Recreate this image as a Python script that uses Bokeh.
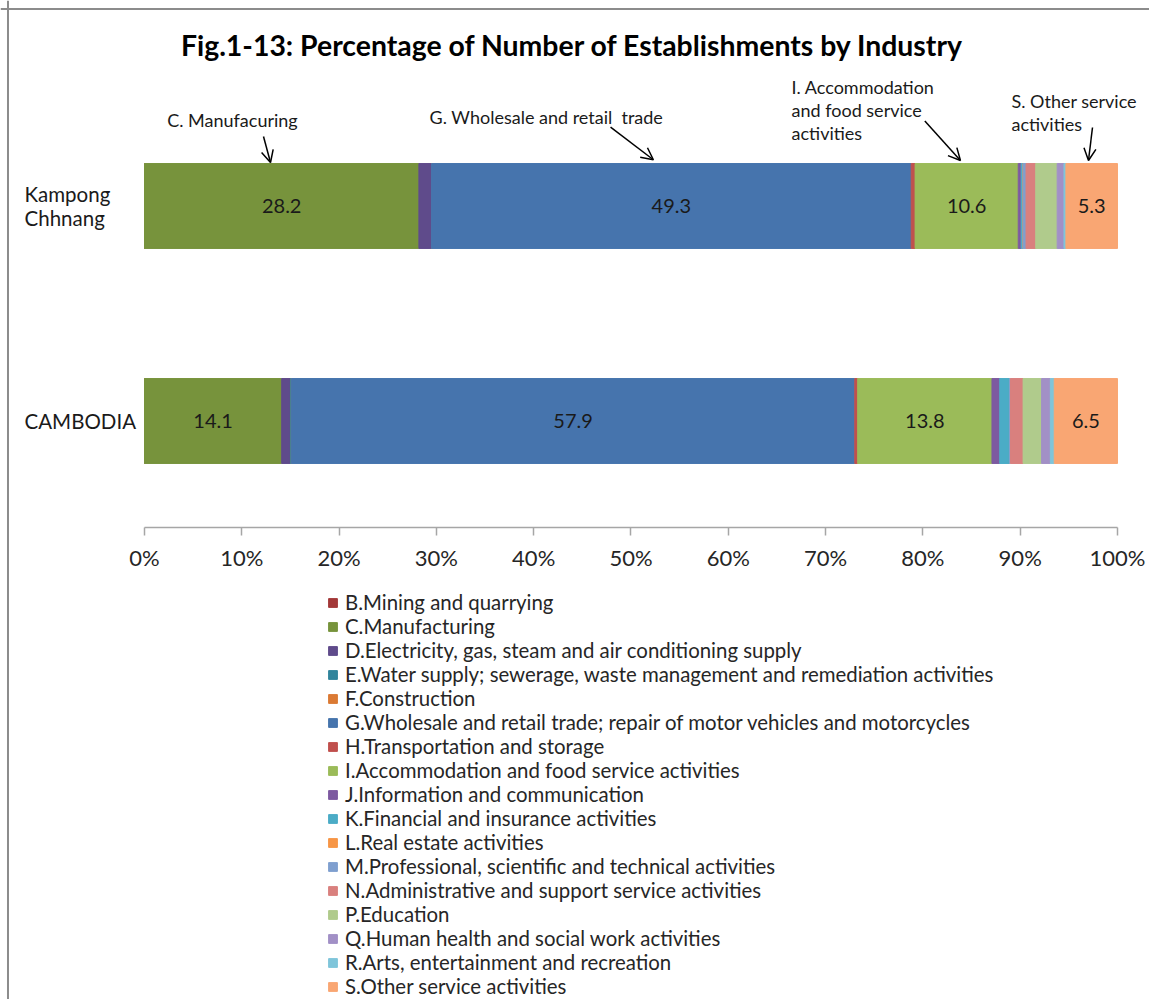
from bokeh.plotting import figure
from bokeh.models import (Range1d, FixedTicker, Legend, LegendItem, Label, Arrow,
                          OpenHead, ColumnDataSource, Span)
from bokeh.core.properties import value
from bokeh.embed import file_html
from bokeh.resources import INLINE

# ---------------- data ----------------
title_text = "Fig.1-13: Percentage of Number of Establishments by Industry"
regions = ["Kampong Chhnang", "CAMBODIA"]
region_labels = ["Kampong\nChhnang", "CAMBODIA"]

industry_keys = ["B", "C", "D", "E", "F", "G", "H", "I", "J", "K", "L", "M", "N", "P", "Q", "R", "S"]
industries = [
    "B.Mining and quarrying",
    "C.Manufacturing",
    "D.Electricity, gas, steam and air conditioning supply",
    "E.Water supply; sewerage, waste management and remediation activities",
    "F.Construction",
    "G.Wholesale and retail trade; repair of motor vehicles and motorcycles",
    "H.Transportation and storage",
    "I.Accommodation and food service activities",
    "J.Information and communication",
    "K.Financial and insurance activities",
    "L.Real estate activities",
    "M.Professional, scientific and technical activities",
    "N.Administrative and support service activities",
    "P.Education",
    "Q.Human health and social work activities",
    "R.Arts, entertainment and recreation",
    "S.Other service activities",
]
colors = ["#A33838", "#77933C", "#5F4B8B", "#31859C", "#DB7A34", "#4674AD", "#C0504D",
          "#9BBB59", "#7D5AA0", "#4BACC6", "#F79646", "#7F9FCF", "#D9807E", "#B0CB8C",
          "#A290C6", "#7FC5DA", "#F9A673"]

kampong_chhnang = [0.0, 28.2, 1.3, 0.0, 0.0, 49.3, 0.4, 10.6, 0.3, 0.2, 0.0, 0.3, 1.0, 2.2, 0.7, 0.2, 5.3]
cambodia = [0.0, 14.1, 0.9, 0.1, 0.0, 57.9, 0.3, 13.8, 0.8, 1.0, 0.0, 0.1, 1.3, 1.9, 0.9, 0.4, 6.5]

labelled_keys = ["C", "G", "I", "S"]
x_ticks = [0, 10, 20, 30, 40, 50, 60, 70, 80, 90, 100]
x_tick_labels = ["0%", "10%", "20%", "30%", "40%", "50%", "60%", "70%", "80%", "90%", "100%"]

# annotation texts
ann_c = "C. Manufacuring"
ann_g = "G. Wholesale and retail\u00a0 trade"
ann_i = "I. Accommodation\nand food service\nactivities"
ann_s = "S. Other service\nactivities"

# ---------------- figure ----------------
FONT = "Lato"
row_pos = [len(regions) - 1 - i for i in range(len(regions))]
series = [kampong_chhnang, cambodia]

src = {"y": row_pos}
for j, k in enumerate(industry_keys):
    src[k] = [s[j] for s in series]
source = ColumnDataSource(src)

# the frame covers the whole canvas; axes are drawn at fixed places inside it
X_START, X_END = -14.80, 103.29
Y_START, Y_END = -2.6907, 1.9558
AXIS_Y = -0.4953
CAT_LABEL_X = -12.33

p = figure(width=1149, height=999, output_backend="svg", toolbar_location=None,
           x_range=Range1d(X_START, X_END), y_range=Range1d(Y_START, Y_END),
           min_border_left=0, min_border_right=0, min_border_top=0,
           min_border_bottom=0)
p.outline_line_color = None
p.grid.visible = False
p.background_fill_color = "white"
p.border_fill_color = "white"

# thin grey frame lines at top and left of the picture
p.add_layout(Span(location=-14.03, dimension="height", line_color="#8c8c8c", line_width=2))
p.add_layout(Span(location=1.916, dimension="width", line_color="#8c8c8c", line_width=2))

renderers = p.hbar_stack(industry_keys, y="y", height=0.395, color=colors,
                         source=source)

# value labels
lx, ly, lt = [], [], []
for s, yv in zip(series, row_pos):
    cum = 0.0
    for k, v in zip(industry_keys, s):
        if k in labelled_keys:
            lx.append(cum + v / 2.0)
            ly.append(yv)
            lt.append(f"{v:.1f}")
        cum += v
p.text(x=lx, y=ly, text=lt, text_align="center", text_baseline="middle",
       text_font=value(FONT), text_font_size="20px", text_color="#1a1a1a")

# category labels (left aligned, as in the original)
p.text(x=[CAT_LABEL_X] * len(regions), y=row_pos, text=region_labels,
       text_align="left", text_baseline="middle", text_line_height=1.0,
       text_font=value(FONT), text_font_size="20.5px", text_color="#1a1a1a")

# x axis
xa = p.xaxis[0]
xa.fixed_location = AXIS_Y
xa.bounds = (x_ticks[0], x_ticks[-1])
xa.ticker = FixedTicker(ticks=x_ticks)
xa.major_label_overrides = {t: l for t, l in zip(x_ticks, x_tick_labels)}
xa.axis_line_color = "#A6A6A6"
xa.axis_line_width = 1.5
xa.major_tick_line_color = "#A6A6A6"
xa.major_tick_line_width = 1.5
xa.major_tick_out = 8
xa.major_tick_in = 0
xa.minor_tick_line_color = None
xa.major_label_text_font = FONT
xa.major_label_text_font_size = "22px"
xa.major_label_text_color = "#262626"
xa.major_label_standoff = 9

# y axis: categories are written by the text glyph above
p.yaxis.visible = False

# title
p.add_layout(Label(x=44.0, y=1.751, text=title_text, text_align="center",
                   text_baseline="middle", text_font=FONT, text_font_size="28.4px",
                   text_font_style="bold", text_color="#000000"))

# annotations
ann_style = dict(text_font=FONT, text_font_size="18px", text_color="#1a1a1a")
p.add_layout(Label(x=9.04, y=1.398, text=ann_c, text_align="center",
                   text_baseline="middle", **ann_style))
p.add_layout(Label(x=41.3, y=1.412, text=ann_g, text_align="center",
                   text_baseline="middle", **ann_style))
p.add_layout(Label(x=66.5, y=1.605, text=ann_i, text_align="left",
                   text_baseline="top", text_line_height=1.05, **ann_style))
p.add_layout(Label(x=89.1, y=1.540, text=ann_s, text_align="left",
                   text_baseline="top", text_line_height=1.05, **ann_style))

arrows = [
    (12.23, 1.3233, 12.95, 1.2023),
    (47.9, 1.367, 52.3, 1.215),
    (80.2, 1.395, 83.86, 1.2116),
    (97.43, 1.365, 97.02, 1.2116),
]
for xs, ys, xe, ye in arrows:
    p.add_layout(Arrow(end=OpenHead(size=12, line_width=1.5, line_color="black"),
                       x_start=xs, y_start=ys, x_end=xe, y_end=ye,
                       line_width=1.5, line_color="black"))

# legend (inside the frame, below the axis)
items = [LegendItem(label=lab, renderers=[r]) for lab, r in zip(industries, renderers)]
legend = Legend(items=items, location=(327, 1), orientation="vertical",
                glyph_width=11, glyph_height=11, label_height=22, spacing=0,
                label_standoff=7, padding=0, margin=0,
                label_text_font=FONT, label_text_font_size="20.4px",
                label_text_color="#262626", border_line_color=None,
                background_fill_alpha=0)
p.add_layout(legend, "center")

open("out.html", "w").write(file_html(p, INLINE))
